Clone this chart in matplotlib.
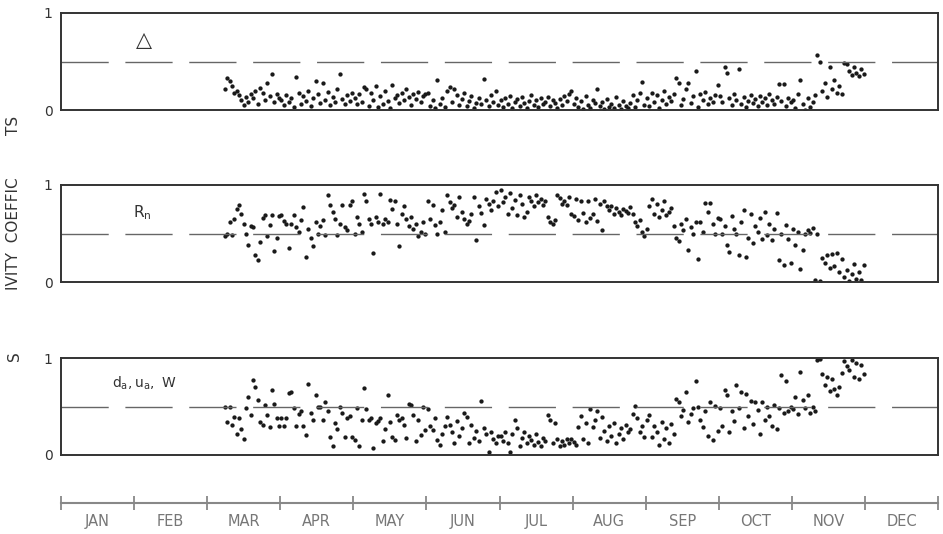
import numpy as np
import pandas as pd
import matplotlib
matplotlib.use("Agg")
import matplotlib.pyplot as plt

# daily values, 8 Mar .. 30 Nov (one line per month)
start_date = "1901-03-08"
months = ["JAN", "FEB", "MAR", "APR", "MAY", "JUN",
          "JUL", "AUG", "SEP", "OCT", "NOV", "DEC"]

delta_vals = [
    0.22, 0.33, 0.30, 0.25, 0.18, 0.20, 0.15, 0.10, 0.05, 0.13, 0.08, 0.16, 0.12, 0.20, 0.06, 0.23, 0.18, 0.10, 0.28, 0.14, 0.37, 0.08, 0.16, 0.12,
    0.10, 0.05, 0.15, 0.08, 0.12, 0.03, 0.34, 0.18, 0.06, 0.14, 0.09, 0.20, 0.04, 0.12, 0.30, 0.16, 0.07, 0.28, 0.10, 0.19, 0.05, 0.13, 0.08, 0.22, 0.37, 0.11, 0.06, 0.15, 0.09, 0.18,
    0.12, 0.06, 0.16, 0.08, 0.24, 0.22, 0.04, 0.18, 0.10, 0.25, 0.03, 0.14, 0.06, 0.20, 0.09, 0.02, 0.26, 0.12, 0.15, 0.07, 0.18, 0.10, 0.22, 0.13, 0.05, 0.17, 0.11, 0.19, 0.08, 0.14, 0.16,
    0.18, 0.04, 0.10, 0.02, 0.31, 0.06, 0.12, 0.03, 0.20, 0.24, 0.08, 0.22, 0.15, 0.05, 0.11, 0.18, 0.04, 0.09, 0.14, 0.02, 0.07, 0.12, 0.06, 0.32, 0.10, 0.04, 0.15, 0.08, 0.20, 0.05,
    0.10, 0.03, 0.12, 0.06, 0.14, 0.02, 0.08, 0.11, 0.04, 0.13, 0.07, 0.02, 0.09, 0.15, 0.05, 0.10, 0.03, 0.12, 0.06, 0.08, 0.13, 0.04, 0.10, 0.07, 0.02, 0.11, 0.05, 0.14, 0.09, 0.16, 0.20,
    0.06, 0.12, 0.03, 0.09, 0.01, 0.14, 0.05, 0.02, 0.10, 0.07, 0.22, 0.04, 0.08, 0.01, 0.11, 0.03, 0.06, 0.02, 0.13, 0.05, 0.01, 0.09, 0.04, 0.02, 0.07, 0.15, 0.03, 0.10, 0.18, 0.29, 0.05,
    0.12, 0.04, 0.18, 0.08, 0.15, 0.02, 0.10, 0.20, 0.06, 0.13, 0.09, 0.17, 0.33, 0.28, 0.05, 0.11, 0.22, 0.28, 0.07, 0.14, 0.40, 0.03, 0.16, 0.10, 0.19, 0.06, 0.12, 0.08, 0.15, 0.26,
    0.14, 0.08, 0.44, 0.38, 0.12, 0.05, 0.16, 0.10, 0.42, 0.06, 0.13, 0.03, 0.09, 0.15, 0.07, 0.11, 0.04, 0.14, 0.08, 0.12, 0.05, 0.16, 0.10, 0.06, 0.13, 0.27, 0.09, 0.27, 0.04, 0.12, 0.08,
    0.10, 0.02, 0.17, 0.31, 0.06, 0.00, 0.12, 0.03, 0.08, 0.15, 0.57, 0.50, 0.20, 0.28, 0.13, 0.44, 0.22, 0.31, 0.18, 0.25, 0.16, 0.48, 0.47, 0.40, 0.36, 0.44, 0.38, 0.35, 0.42, 0.37,
]

rn_vals = [
    0.47, 0.50, 0.62, 0.48, 0.65, 0.75, 0.79, 0.70, 0.60, 0.50, 0.38, 0.58, 0.57, 0.28, 0.23, 0.41, 0.66, 0.69, 0.47, 0.59, 0.69, 0.32, 0.45, 0.68,
    0.69, 0.63, 0.60, 0.35, 0.60, 0.69, 0.57, 0.52, 0.64, 0.77, 0.26, 0.55, 0.45, 0.37, 0.62, 0.50, 0.58, 0.64, 0.48, 0.90, 0.79, 0.72, 0.65, 0.48, 0.60, 0.79, 0.57, 0.54, 0.79, 0.83,
    0.50, 0.67, 0.60, 0.52, 0.91, 0.83, 0.65, 0.60, 0.30, 0.67, 0.62, 0.91, 0.60, 0.65, 0.62, 0.85, 0.75, 0.83, 0.60, 0.37, 0.70, 0.78, 0.65, 0.58, 0.67, 0.55, 0.60, 0.47, 0.52, 0.62, 0.49,
    0.84, 0.65, 0.79, 0.59, 0.49, 0.62, 0.74, 0.52, 0.90, 0.82, 0.76, 0.79, 0.67, 0.88, 0.72, 0.65, 0.60, 0.63, 0.70, 0.88, 0.43, 0.78, 0.71, 0.59, 0.86, 0.80, 0.74, 0.84, 0.93, 0.78,
    0.95, 0.82, 0.88, 0.70, 0.92, 0.76, 0.85, 0.69, 0.90, 0.80, 0.67, 0.72, 0.88, 0.84, 0.78, 0.90, 0.82, 0.86, 0.79, 0.84, 0.67, 0.62, 0.60, 0.64, 0.90, 0.87, 0.80, 0.84, 0.79, 0.88, 0.70,
    0.68, 0.86, 0.64, 0.84, 0.71, 0.62, 0.83, 0.66, 0.70, 0.86, 0.63, 0.80, 0.54, 0.84, 0.78, 0.74, 0.78, 0.70, 0.76, 0.72, 0.69, 0.75, 0.73, 0.71, 0.77, 0.70, 0.62, 0.58, 0.64, 0.52, 0.47,
    0.55, 0.78, 0.86, 0.70, 0.80, 0.67, 0.74, 0.84, 0.69, 0.72, 0.76, 0.58, 0.45, 0.42, 0.60, 0.54, 0.65, 0.33, 0.57, 0.50, 0.62, 0.24, 0.62, 0.52, 0.81, 0.72, 0.81, 0.60, 0.50, 0.66,
    0.65, 0.50, 0.58, 0.38, 0.31, 0.68, 0.55, 0.50, 0.28, 0.62, 0.74, 0.26, 0.45, 0.70, 0.40, 0.58, 0.52, 0.66, 0.44, 0.72, 0.48, 0.60, 0.43, 0.55, 0.71, 0.23, 0.50, 0.18, 0.59, 0.44, 0.20,
    0.55, 0.38, 0.52, 0.13, 0.33, 0.50, 0.54, 0.51, 0.56, 0.02, 0.50, 0.01, 0.25, 0.20, 0.28, 0.14, 0.29, 0.17, 0.30, 0.10, 0.24, 0.05, 0.12, 0.01, 0.08, 0.19, 0.03, 0.10, 0.02, 0.18,
]

duw_vals = [
    0.50, 0.34, 0.49, 0.31, 0.39, 0.22, 0.38, 0.27, 0.17, 0.48, 0.60, 0.41, 0.77, 0.70, 0.57, 0.34, 0.31, 0.52, 0.41, 0.29, 0.67, 0.53, 0.38, 0.30,
    0.38, 0.30, 0.38, 0.64, 0.65, 0.48, 0.30, 0.42, 0.45, 0.30, 0.21, 0.73, 0.43, 0.36, 0.62, 0.50, 0.49, 0.36, 0.55, 0.45, 0.19, 0.09, 0.33, 0.27, 0.50, 0.43, 0.19, 0.38, 0.40, 0.19,
    0.15, 0.48, 0.09, 0.36, 0.69, 0.47, 0.36, 0.38, 0.07, 0.33, 0.35, 0.38, 0.14, 0.27, 0.62, 0.34, 0.19, 0.15, 0.41, 0.36, 0.38, 0.31, 0.18, 0.53, 0.52, 0.41, 0.14, 0.36, 0.21, 0.50, 0.26,
    0.47, 0.30, 0.26, 0.38, 0.15, 0.10, 0.22, 0.30, 0.39, 0.31, 0.24, 0.12, 0.35, 0.20, 0.28, 0.43, 0.39, 0.12, 0.31, 0.18, 0.25, 0.14, 0.56, 0.28, 0.22, 0.03, 0.24, 0.16, 0.12, 0.20,
    0.20, 0.14, 0.24, 0.12, 0.03, 0.22, 0.36, 0.28, 0.09, 0.18, 0.24, 0.12, 0.20, 0.15, 0.10, 0.22, 0.13, 0.09, 0.18, 0.14, 0.41, 0.36, 0.12, 0.33, 0.17, 0.09, 0.14, 0.10, 0.16, 0.12, 0.17,
    0.13, 0.10, 0.29, 0.40, 0.16, 0.33, 0.12, 0.47, 0.29, 0.36, 0.45, 0.18, 0.39, 0.25, 0.14, 0.30, 0.20, 0.33, 0.12, 0.22, 0.28, 0.17, 0.31, 0.24, 0.27, 0.42, 0.51, 0.38, 0.24, 0.30, 0.19,
    0.36, 0.41, 0.19, 0.30, 0.24, 0.10, 0.34, 0.16, 0.28, 0.12, 0.32, 0.22, 0.58, 0.55, 0.40, 0.46, 0.65, 0.34, 0.42, 0.48, 0.76, 0.50, 0.36, 0.29, 0.45, 0.20, 0.55, 0.15, 0.51, 0.25,
    0.48, 0.30, 0.67, 0.62, 0.24, 0.45, 0.35, 0.72, 0.48, 0.65, 0.28, 0.63, 0.40, 0.56, 0.32, 0.55, 0.46, 0.22, 0.55, 0.36, 0.50, 0.40, 0.30, 0.52, 0.27, 0.48, 0.82, 0.43, 0.76, 0.45, 0.50,
    0.47, 0.60, 0.42, 0.86, 0.57, 0.48, 0.62, 0.43, 0.50, 0.45, 0.98, 0.99, 0.84, 0.72, 0.80, 0.66, 0.78, 0.68, 0.62, 0.70, 0.85, 0.97, 0.92, 0.88, 0.98, 0.80, 0.95, 0.78, 0.93, 0.84,
]

panel_labels = ["\u25b3", r"$\mathregular{R_n}$", r"$\mathregular{d_a, u_a,\ W}$"]

W, H = 943, 534
fig = plt.figure(figsize=(W / 100, H / 100), dpi=100)

# month-scaled x: each month the same width, like the original
dates = pd.date_range(start_date, periods=len(delta_vals), freq="D")
xpos = (dates.month - 1) + (dates.day - 0.5) / dates.days_in_month

frame_col = "#333333"
tops = [13, 185, 358]
label_pos = [(1.03, 0.72, 15), (0.98, 0.72, 11), (0.70, 0.74, 10)]

for top, vals, lab, lp in zip(tops, [delta_vals, rn_vals, duw_vals], panel_labels, label_pos):
    ax = fig.add_axes([61 / W, 1 - (top + 97) / H, 877 / W, 97 / H])
    ax.plot(xpos, vals, "o", ms=3.1, color="#1a1a1a", mec="none")
    ax.axhline(0.5, color="#666666", lw=1.0, dashes=(34, 12))
    ax.set_xlim(0, 12)
    ax.set_ylim(0, 1)
    ax.set_xticks([])
    ax.set_yticks([0, 1])
    ax.set_yticklabels(["0", "1"], fontsize=10, color="#333333")
    ax.tick_params(axis="y", length=0, pad=6)
    for sp in ax.spines.values():
        sp.set_color(frame_col)
        sp.set_linewidth(1.4)
    ax.text(lp[0], lp[1], lab, fontsize=lp[2], color="#333333",
            ha="left", va="center")

# month axis along the bottom
axm = fig.add_axes([61 / W, 1 - 503 / H, 877 / W, 0.01])
axm.set_xlim(0, 12)
axm.set_ylim(0, 1)
for s in ["top", "left", "right"]:
    axm.spines[s].set_visible(False)
axm.spines["bottom"].set_color("#888888")
axm.spines["bottom"].set_linewidth(1.5)
axm.patch.set_visible(False)
axm.set_yticks([])
axm.set_xticks(range(13))
axm.set_xticklabels([])
axm.set_xticks(np.arange(12) + 0.5, minor=True)
axm.set_xticklabels(months, minor=True, fontsize=10.5, color="#777777")
axm.tick_params(axis="x", which="major", direction="inout", length=10,
                width=1.3, color="#888888")
axm.tick_params(axis="x", which="minor", length=0, pad=8)

# cropped y label remnants on the left edge
ylab_kw = dict(rotation=90, fontsize=11, color="#333333", ha="center", va="center")
fig.text(14 / W, 1 - 125 / H, "TS", **ylab_kw)
fig.text(14 / W, 1 - 234 / H, "IVITY  COEFFIC", **ylab_kw)
fig.text(14 / W, 1 - 356 / H, "S", **ylab_kw)

fig.savefig("out.png", dpi=100, facecolor="white")
